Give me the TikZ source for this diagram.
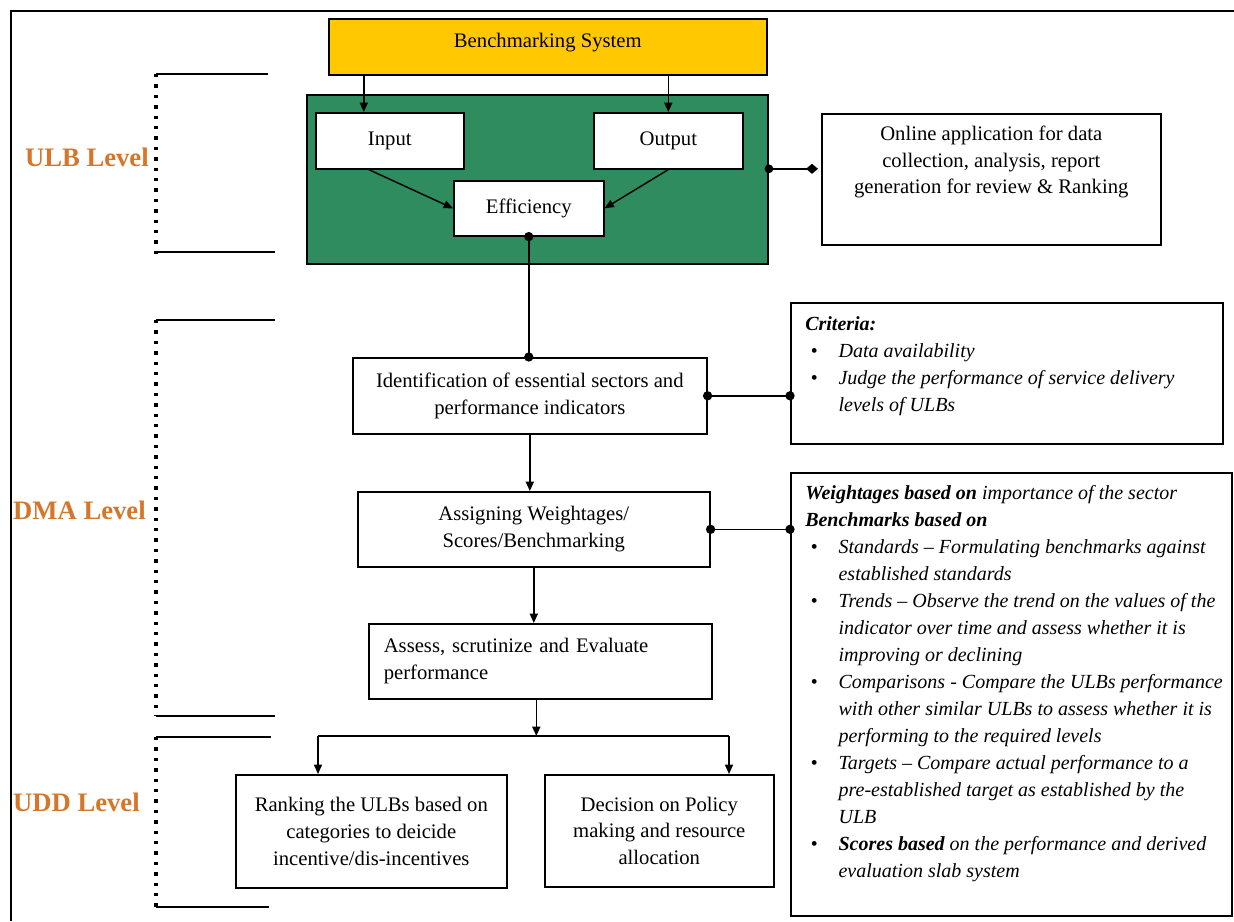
\documentclass[tikz,border=0pt]{standalone}
\usepackage{fontspec}
\setmainfont{Liberation Serif}
\usepackage{xcolor}
\usetikzlibrary{arrows.meta,calc,positioning}

\definecolor{benchyellow}{RGB}{255,200,0}
\definecolor{ulbgreen}{RGB}{46,140,94}
\definecolor{levelorange}{RGB}{214,118,42}

\tikzset{
  box/.style={draw, line width=1.2pt, fill=white, align=center, inner sep=0pt, anchor=north west,
    font=\fontsize{15.5}{20}\selectfont},
  txt/.style={inner sep=0pt, align=left, font=\fontsize{15}{20.3}\selectfont\itshape},
  arr/.style={line width=1.1pt, -{Triangle[length=7pt,width=6pt]}},
  link/.style={line width=1.1pt},
  lvl/.style={inner sep=0pt, anchor=east, text=levelorange, font=\fontsize{20}{24}\selectfont\bfseries},
  bracket/.style={line width=2.6pt, dash pattern=on 2.6pt off 5.2pt},
}

\begin{document}
\begin{tikzpicture}[x=0.75pt,y=0.75pt,yscale=-1,xscale=1]
\useasboundingbox (0,0) rectangle (1234,921);

%Outer frame
\draw [line width=0.8pt] (11,921) -- (11,11) -- (1234,11) ;

%Shape: Rectangle (ULB level)
\node [box, fill=benchyellow, minimum width=328.5pt, minimum height=42pt] (bench) at (328,18) {};
\node [box, anchor=north, draw=none, fill=none, below=11pt of bench.north] (benchtxt) {Benchmarking System};
\node [box, fill=ulbgreen, minimum width=345.75pt, minimum height=126.75pt] (green) at (306,94) {};
\node [box, minimum width=111pt, minimum height=42pt] (inp) at (315,112) {Input};
\node [box, minimum width=111.75pt, minimum height=42pt] (outp) at (593,112) {Output};
\node [box, minimum width=112.5pt, minimum height=41.25pt] (eff) at (453,180) {Efficiency};
\node [box, minimum width=254.25pt, minimum height=98.25pt] (onl) at (821,113) {};
% Text Node
\node [txt, align=center, font=\fontsize{15.5}{20}\selectfont, below=9.5pt of onl.north] (onltxt)
  {Online application for data\\ collection, analysis, report\\ generation for review \& Ranking};

%Shape: Rectangle (DMA level)
\node [box, minimum width=265.5pt, minimum height=57pt] (ident) at (352,357)
  {Identification of essential sectors and\\ performance indicators};
\node [box, minimum width=264pt, minimum height=56.25pt] (assign) at (357,491)
  {Assigning Weightages/\\ Scores/Benchmarking};
\node [box, align=left, text width=234.75pt, inner xsep=11.25pt, minimum height=56.25pt] (assess) at (368,623)
  {Assess, scrutinize and Evaluate\\ performance};
\node [box, minimum width=324pt, minimum height=105.75pt] (crit) at (790,302) {};
\node [box, minimum width=330.75pt, minimum height=332.25pt] (wgt) at (790,472) {};
% Text Node
\node [txt, below right=10.5pt and 11.25pt of crit.north west] (crittxt)
  {\textbf{Criteria:}\\
   \hspace*{4pt}\makebox[21pt][l]{\textbullet}Data availability\\
   \hspace*{4pt}\makebox[21pt][l]{\textbullet}Judge the performance of service delivery\\
   \hspace*{25pt}levels of ULBs};
% Text Node
\node [txt, below right=9.5pt and 11.25pt of wgt.north west] (wgttxt)
  {\textbf{Weightages based on} importance of the sector\\
   \textbf{Benchmarks based on}\\
   \hspace*{4pt}\makebox[21pt][l]{\textbullet}Standards -- Formulating benchmarks against\\
   \hspace*{25pt}established standards\\
   \hspace*{4pt}\makebox[21pt][l]{\textbullet}Trends -- Observe the trend on the values of the\\
   \hspace*{25pt}indicator over time and assess whether it is\\
   \hspace*{25pt}improving or declining\\
   \hspace*{4pt}\makebox[21pt][l]{\textbullet}Comparisons - Compare the ULBs performance\\
   \hspace*{25pt}with other similar ULBs to assess whether it is\\
   \hspace*{25pt}performing to the required levels\\
   \hspace*{4pt}\makebox[21pt][l]{\textbullet}Targets -- Compare actual performance to a\\
   \hspace*{25pt}pre-established target as established by the\\
   \hspace*{25pt}ULB\\
   \hspace*{4pt}\makebox[21pt][l]{\textbullet}\textbf{Scores based} on the performance and derived\\
   \hspace*{25pt}evaluation slab system};

%Shape: Rectangle (UDD level)
\node [box, minimum width=203.25pt, minimum height=84.75pt] (rank) at (235,774)
  {Ranking the ULBs based on\\ categories to deicide\\ incentive/dis-incentives};
\node [box, minimum width=171.75pt, minimum height=84pt] (dec) at (544,774)
  {Decision on Policy\\ making and resource\\ allocation};

%Straight Lines
\coordinate (inpin) at ($(inp.north)+(-26,0)$);
\draw [arr] (inpin |- bench.south) -- (inpin) ;
\draw [arr] (outp.north |- bench.south) -- (outp.north) ;
\draw [arr] ($(inp.south)+(-21,0)$) -- (eff.west) ;
\draw [arr] (outp.south) -- (eff.east) ;
\draw [link] (eff.south) -- (eff.south |- ident.north) ;
\draw [arr] (ident.south) -- (ident.south |- assign.north) ;
\draw [arr] (assign.south) -- (assign.south |- assess.north) ;
\coordinate (forkl) at ($(rank.north west)+(83,-38)$);
\coordinate (forkr) at ($(dec.north west)+(185,-38)$);
\coordinate (assout) at ($(assess.south)+(-4,0)$);
\draw [arr] (assout) -- (assout |- forkl) ;
\draw [link] (forkl) -- (forkr) ;
\draw [arr] (forkl) -- (forkl |- rank.north) ;
\draw [arr] (forkr) -- (forkr |- dec.north) ;
\draw [link] (ident.east) -- (ident.east -| crit.west) ;
\draw [link] (assign.east) -- (assign.east -| wgt.west) ;
\draw [link, {Circle[length=6.5pt]}-{Diamond[length=9pt,width=7.5pt]}] ($(green.east)+(-4,-10.5)$) -- ($(onl.west)+(-3,-10.5)$) ;
\foreach \p in {eff.south, eff.south |- ident.north, ident.east, assign.east, ident.east -| crit.west, assign.east -| wgt.west}
  \fill (\p) circle (3.5pt) ;

%Level brackets
\draw [bracket] (156,74) -- (156,258) ;
\draw [link] (156,74) -- (268,74) ;
\draw [link] (156,252) -- (275,252) ;
\draw [bracket] (156,320) -- (156,716) ;
\draw [link] (156,320) -- (275,320) ;
\draw [link] (156,716) -- (275,716) ;
\draw [bracket] (156,737) -- (156,907) ;
\draw [link] (156,737) -- (271,737) ;
\draw [link] (156,907) -- (269,907) ;

% Text Node
\node [lvl] (ulblbl) at (149,157) {ULB Level};
\node [lvl] (dmalbl) at (146,510) {DMA Level};
\node [lvl] (uddlbl) at (140,802) {UDD Level};

\end{tikzpicture}
\end{document}
